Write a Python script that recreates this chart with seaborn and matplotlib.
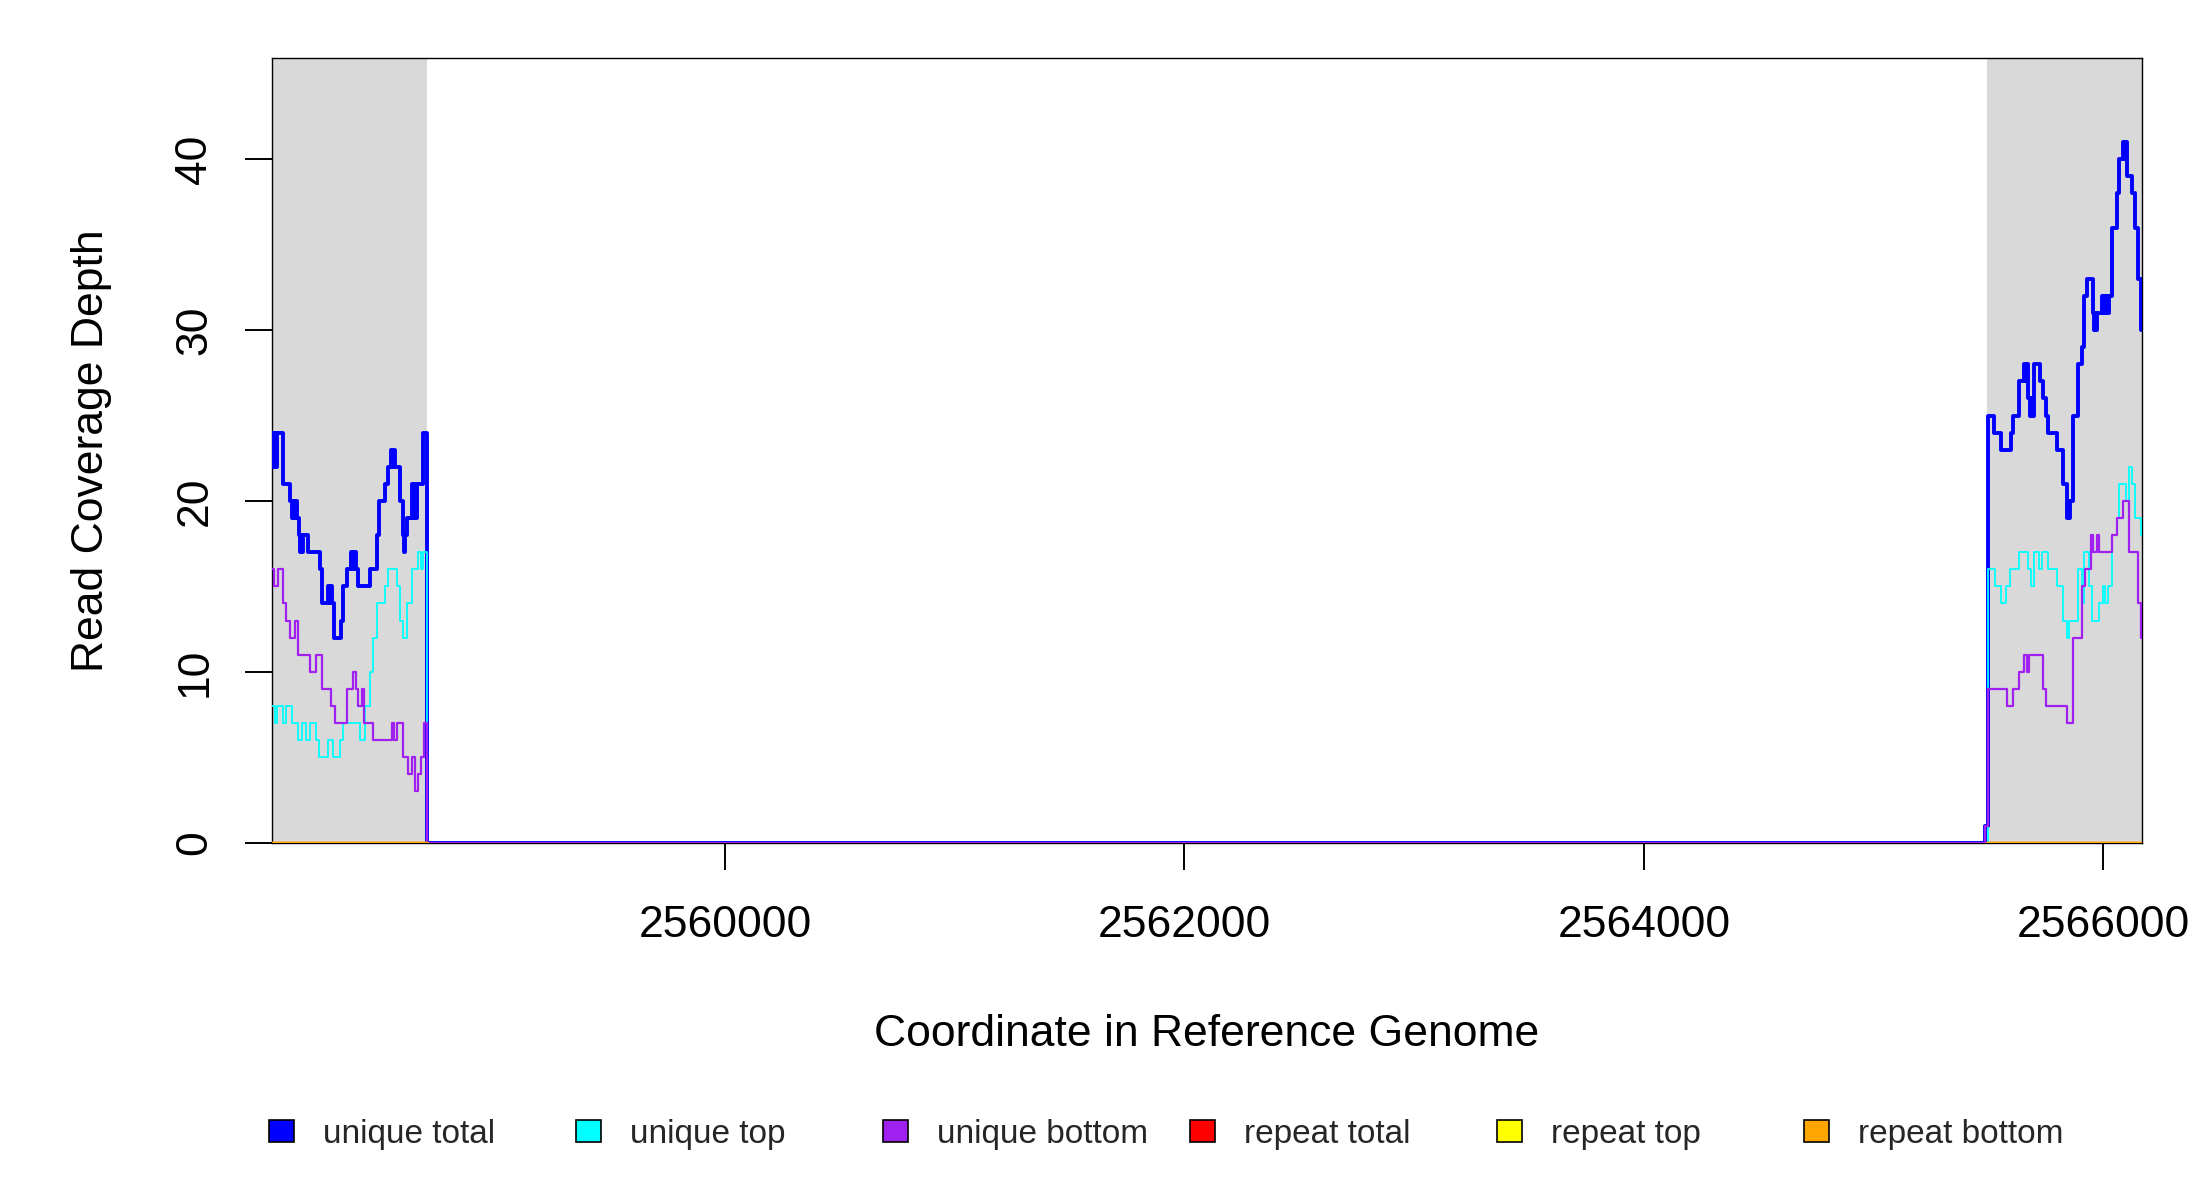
import matplotlib
matplotlib.use("Agg")
import matplotlib.pyplot as plt
from matplotlib.patches import Patch
import numpy as np
import pandas as pd
import seaborn as sns

# ---------------- data ----------------
X_START = 2558027          # left edge of plotted window
LEFT_END = 2558702         # end of left flank (shaded)
RIGHT_START = 2565492      # start of right flank (shaded)
X_END = 2566167            # right edge of plotted window

x_ticks = [2560000, 2562000, 2564000, 2566000]
x_tick_labels = ["2560000", "2562000", "2564000", "2566000"]
y_ticks = [0, 10, 20, 30, 40]
y_max = 45.9

# left flank: offsets (bp from X_START) and coverage values (step-post)
ut_left_off = [0, 6, 12, 17, 23, 49, 79, 87, 93, 99, 105, 111, 119, 124, 128, 132, 137, 158, 209, 221,
               246, 252, 257, 263, 270, 300, 311, 326, 347, 353, 359, 365, 377, 427, 457, 468, 493, 507,
               518, 523, 529, 535, 558, 570, 576, 582, 587, 609, 615, 621, 627, 631, 660]
ut_left_val = [24, 22, 24, 22, 24, 21, 20, 19, 20, 19, 20, 19, 18, 17, 18, 17, 18, 17, 16, 14,
               15, 14, 15, 14, 12, 13, 15, 16, 17, 16, 17, 16, 15, 16, 18, 20, 21, 22,
               23, 22, 23, 22, 20, 18, 17, 18, 19, 21, 19, 21, 19, 21, 24]

utop_left_off = [0, 13, 23, 49, 61, 90, 115, 131, 151, 166, 195, 207, 246, 267, 297, 311, 384, 405, 427,
                 442, 457, 493, 507, 544, 558, 570, 587, 609, 638, 650, 660]
utop_left_val = [8, 7, 8, 7, 8, 7, 6, 7, 6, 7, 6, 5, 6, 5, 6, 7, 6, 8, 10,
                 12, 14, 15, 16, 15, 13, 12, 14, 16, 17, 16, 17]

ubot_left_off = [0, 9, 28, 49, 61, 79, 100, 115, 166, 195, 217, 260, 275, 326, 352, 369, 377, 391, 401,
                 442, 522, 532, 544, 573, 595, 609, 624, 638, 650, 663]
ubot_left_val = [16, 15, 16, 14, 13, 12, 13, 11, 10, 11, 9, 8, 7, 9, 10, 9, 8, 9, 7,
                 6, 7, 6, 7, 5, 4, 5, 3, 4, 5, 7]

# right flank: offsets (bp from RIGHT_START) and coverage values (step-post)
ut_right_off = [-7, 4, 32, 61, 105, 113, 142, 163, 168, 174, 182, 189, 195, 200, 206, 232, 244, 258, 269,
                308, 334, 348, 352, 356, 360, 363, 375, 399, 414, 424, 436, 465, 469, 473, 477, 479,
                501, 506, 511, 516, 521, 526, 534, 545, 566, 578, 592, 598, 604, 610, 632, 646, 661, 671]
ut_right_val = [1, 25, 24, 23, 24, 25, 27, 28, 27, 28, 26, 25, 26, 25, 28, 27, 26, 25, 24,
                23, 21, 20, 19, 20, 19, 20, 25, 28, 29, 32, 33, 31, 30, 31, 30, 31,
                32, 31, 32, 31, 32, 31, 32, 36, 38, 40, 41, 40, 41, 39, 38, 36, 33, 30]

utop_right_off = [4, 36, 61, 84, 102, 142, 182, 192, 206, 229, 240, 269, 308, 334, 348, 360, 399, 414,
                  424, 445, 460, 491, 505, 515, 530, 545, 569, 578, 607, 620, 634, 646, 672]
utop_right_val = [16, 15, 14, 15, 16, 17, 16, 15, 17, 16, 17, 16, 15, 13, 12, 13, 16, 14,
                  17, 15, 13, 14, 15, 14, 15, 18, 19, 21, 20, 22, 21, 19, 18]

ubot_right_off = [-7, 4, 87, 113, 142, 163, 174, 186, 244, 258, 348, 375, 414, 428, 453, 465, 479, 491,
                  545, 569, 595, 621, 661, 671]
ubot_right_val = [1, 9, 8, 9, 10, 11, 10, 11, 9, 8, 7, 12, 15, 16, 18, 17, 18, 17,
                  18, 19, 20, 17, 14, 12]

# repeat coverage: zero in both flanks
rep_total_val = [0, 0]
rep_top_val = [0, 0]
rep_bottom_val = [0, 0]

series_names = ["unique total", "unique top", "unique bottom", "repeat total", "repeat top", "repeat bottom"]
series_colors = ["#0000FF", "#00FFFF", "#A020F0", "#FF0000", "#FFFF00", "#FFA500"]


def build_unique(left_off, left_val, right_off, right_val):
    xs = [X_START + o for o in left_off] + [LEFT_END] + [RIGHT_START + o for o in right_off] + [X_END]
    ys = list(left_val) + [0] + list(right_val) + [right_val[-1]]
    return pd.DataFrame({"pos": xs, "depth": ys})


# ---------------- figure ----------------
sns.set_style("white")
plt.rcParams["font.family"] = ["Liberation Sans", "DejaVu Sans"]

fig = plt.figure(figsize=(22, 12), dpi=100)
ax = fig.add_axes([0.1235, 0.2977, 0.85, 0.6537])

ax.axvspan(X_START, LEFT_END, color="#D9D9D9", lw=0, zorder=0)
ax.axvspan(RIGHT_START, X_END, color="#D9D9D9", lw=0, zorder=0)

unique_sets = [
    (ut_left_off, ut_left_val, ut_right_off, ut_right_val, series_colors[0], 2.8),
    (utop_left_off, utop_left_val, utop_right_off, utop_right_val, series_colors[1], 1.3),
    (ubot_left_off, ubot_left_val, ubot_right_off, ubot_right_val, series_colors[2], 1.6),
]
for lo, lv, ro, rv, col, lw in unique_sets:
    df = build_unique(lo, lv, ro, rv)
    sns.lineplot(data=df, x="pos", y="depth", ax=ax, color=col, linewidth=lw,
                 drawstyle="steps-post", estimator=None, sort=False, legend=False, zorder=3)

flanks = [(X_START, LEFT_END), (RIGHT_START, X_END)]
for vals, col in zip([rep_total_val, rep_top_val, rep_bottom_val], series_colors[3:]):
    for (a, b) in flanks:
        df = pd.DataFrame({"pos": [a, b], "depth": vals})
        sns.lineplot(data=df, x="pos", y="depth", ax=ax, color=col, linewidth=2.4,
                     drawstyle="steps-post", estimator=None, sort=False, legend=False, zorder=3)

ax.set_xlim(X_START, X_END)
ax.set_ylim(0, y_max)
ax.set_xticks(x_ticks)
ax.set_xticklabels(x_tick_labels)
ax.set_yticks(y_ticks)
ax.set_yticklabels([str(v) for v in y_ticks])

for s in ax.spines.values():
    s.set_visible(True)
    s.set_color("black")
    s.set_linewidth(1.0)
    s.set_zorder(2)

ax.tick_params(axis="both", which="major", direction="out", length=19.5, width=1.4,
               color="black", labelsize=32, labelcolor="black", bottom=True, left=True)
ax.tick_params(axis="x", pad=25)
ax.tick_params(axis="y", pad=21)
for lab in ax.get_yticklabels():
    lab.set_rotation(90)
    lab.set_va("center")

ax.set_xlabel("Coordinate in Reference Genome", fontsize=32, labelpad=49, color="black")
ax.set_ylabel("Read Coverage Depth", fontsize=32, labelpad=45, color="black")

# legend: evenly spaced entries along the bottom
leg_x0 = 269 / 2200
leg_dx = 307 / 2200
leg_y = 1 - 1134 / 1200
for i, (name, col) in enumerate(zip(series_names, series_colors)):
    h = Patch(facecolor=col, edgecolor="black", linewidth=1.2)
    fig.legend(handles=[h], labels=[name], loc="center left",
               bbox_to_anchor=(leg_x0 + i * leg_dx, leg_y), frameon=False,
               fontsize=24, handlelength=0.75, handleheight=0.63, handletextpad=0.87,
               borderpad=0, borderaxespad=0)

fig.savefig("out.png", dpi=100, facecolor="white")
